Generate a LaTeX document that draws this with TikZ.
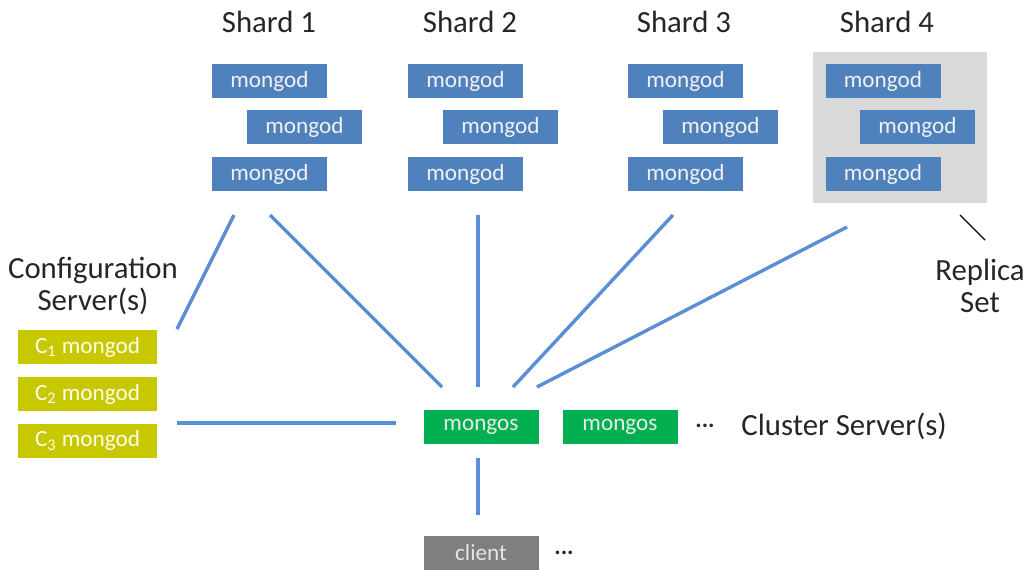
\documentclass[tikz,border=0pt]{standalone}
\usepackage{fontspec}
\setmainfont{Carlito}
\usepackage{tikz}
\usepackage{color}
\usetikzlibrary{fit,backgrounds}
\definecolor{mgblue}{HTML}{4F81BD}
\definecolor{lnblue}{HTML}{5A8ED6}
\definecolor{cfgolive}{HTML}{C8C800}
\definecolor{msgreen}{HTML}{00B050}
\definecolor{clgrey}{HTML}{7F7F7F}
\definecolor{rsgrey}{HTML}{D9D9D9}
\definecolor{txtdark}{HTML}{262626}
\tikzset{
  box/.style = {rectangle, inner sep=0pt, align=center,
    minimum width=57.5pt, minimum height=17pt,
    font=\fontsize{11.6}{13}\selectfont},
  mongod/.style = {box, fill=mgblue, text=white!95!black},% membre d'un shard
  cfg/.style = {box, fill=cfgolive, text=white!90!yellow,
    minimum width=69.5pt},% serveur de config
  mongos/.style = {box, fill=msgreen, text=white!92!black},% routeur
  client/.style = {box, fill=clgrey, text=white!90!black},
  lbl/.style = {text=txtdark, align=center, inner sep=0pt,
    font=\fontsize{15.4}{16}\selectfont},
  dots/.style = {text=txtdark, inner sep=0pt,
    font=\fontsize{12}{12}\selectfont\bfseries},
  link/.style = {draw=lnblue, line width=1.7pt}
}
\begin{document}
\begin{tikzpicture}[x=0.5pt,y=-0.5pt]
\useasboundingbox (0,0) rectangle (1029,569);
% shards
\node [lbl] (sh1) at (269,22) {Shard 1};
\node [mongod] (s1a) at (269.5,81) {mongod};
\node [mongod] (s1b) at (304.5,127) {mongod};
\node [mongod] (s1c) at (269.5,174) {mongod};
\node [lbl] (sh2) at (470,22) {Shard 2};
\node [mongod] (s2a) at (465.5,81) {mongod};
\node [mongod] (s2b) at (500.5,127) {mongod};
\node [mongod] (s2c) at (465.5,174) {mongod};
\node [lbl] (sh3) at (684,22) {Shard 3};
\node [mongod] (s3a) at (685.5,81) {mongod};
\node [mongod] (s3b) at (720.5,127) {mongod};
\node [mongod] (s3c) at (685.5,174) {mongod};
\node [lbl] (sh4) at (887,22) {Shard 4};
\node [mongod] (s4a) at (883,81) {mongod};
\node [mongod] (s4b) at (917.5,127) {mongod};
\node [mongod] (s4c) at (883,174) {mongod};
\begin{scope}[on background layer]
  \node [fill=rsgrey, inner sep=6pt, fit=(s4a)(s4b)(s4c)] (rs) {};
\end{scope}
\node [lbl] (rslbl) at (980,286) {Replica\\Set};
% config servers
\node [lbl] (cfglbl) at (93,286) {Configuration\\Server(s)};
\node [cfg] (c1) at (87.5,347) {C\textsubscript{1} mongod};
\node [cfg] (c2) at (87.5,394) {C\textsubscript{2} mongod};
\node [cfg] (c3) at (87.5,440.5) {C\textsubscript{3} mongod};
% routers and client
\node [mongos] (m1) at (481,426.5) {mongos};
\node [mongos] (m2) at (620,426.5) {mongos};
\node [dots] (md) at (705,426) {...};
\node [lbl, anchor=west] (mslbl) at (741,426) {Cluster Server(s)};
\node [client] (cl) at (481,553) {client};
\node [dots] (cd) at (564,553) {...};
% line ends
\coordinate (s1l) at (234,215);  \coordinate (c1r) at (177,329);
\coordinate (s1r) at (270,215);  \coordinate (m1a) at (442,387);
\coordinate (s2m) at (478,215);  \coordinate (m1b) at (478,387);
\coordinate (s3m) at (673,215);  \coordinate (m1c) at (513,387);
\coordinate (s4m) at (847,227);  \coordinate (m1d) at (537,387);
\coordinate (c3r) at (177,423);  \coordinate (m1w) at (396,423);
\coordinate (m1s) at (478,458);  \coordinate (cln) at (478,515);
\coordinate (rsa) at (960,215);  \coordinate (rsb) at (985,240);
\draw [link] (s1l) -- (c1r);
\draw [link] (s1r) -- (m1a);
\draw [link] (s2m) -- (m1b);
\draw [link] (s3m) -- (m1c);
\draw [link] (s4m) -- (m1d);
\draw [link] (c3r) -- (m1w);
\draw [link] (m1s) -- (cln);
\draw [black, line width=0.7pt] (rsa) -- (rsb);
\end{tikzpicture}
\end{document}
